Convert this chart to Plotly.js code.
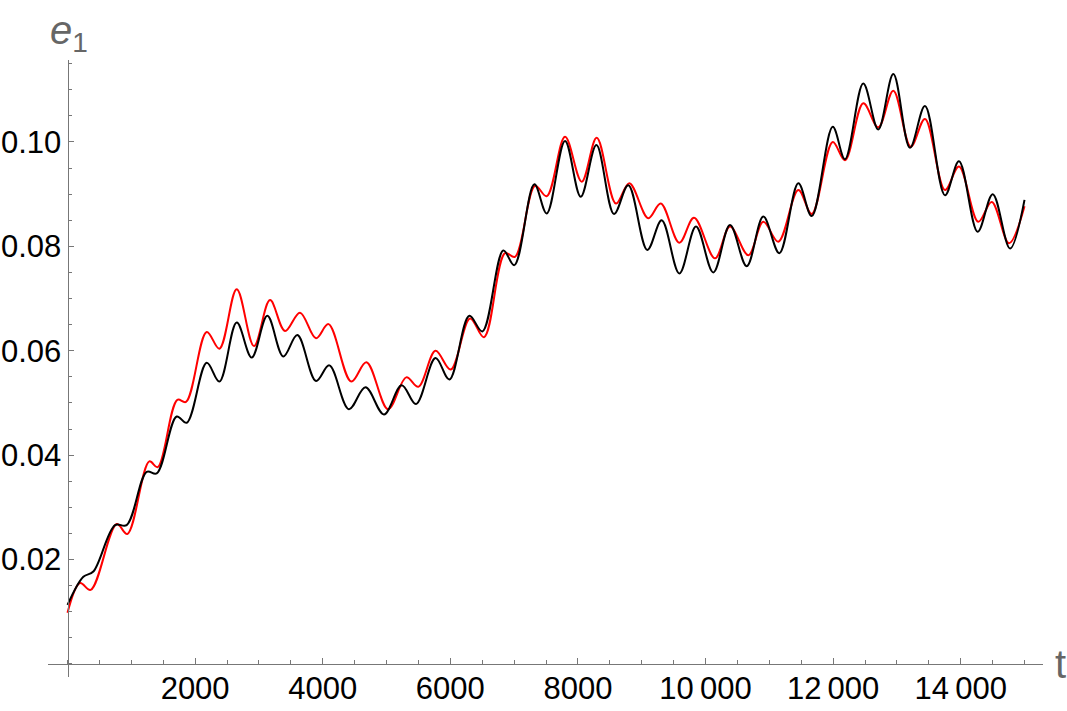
<!DOCTYPE html>
<html>
<head>
<meta charset="utf-8">
<script src="https://cdn.plot.ly/plotly-3.0.1.min.js"></script>
<style>
  html, body { margin: 0; padding: 0; background: #fff; }
  #plot { width: 1067px; height: 711px; }
</style>
</head>
<body>
<div id="plot"></div>
<script>
// e1(t) — two solutions at their turning points
const tBlack = [0, 248, 405, 745, 927, 1241, 1398, 1711, 1868, 2182, 2380, 2652, 2887, 3132, 3383, 3602, 3895, 4103,
  4410, 4670, 4960, 5238, 5462, 5768, 5985, 6298, 6502, 6831, 7003, 7317, 7511, 7798, 8044, 8290, 8566, 8790, 9088,
  9313, 9590, 9851, 10122, 10384, 10646, 10906, 11157, 11455, 11665, 11994, 12186, 12473, 12708, 12944, 13205, 13440,
  13754, 13973, 14266, 14502, 14773, 15000];
const eBlack = [0.0113, 0.0167, 0.0177, 0.0266, 0.0266, 0.0368, 0.0365, 0.0474, 0.0462, 0.0577, 0.0541, 0.0654, 0.0587,
  0.0667, 0.0589, 0.0630, 0.0542, 0.0572, 0.0488, 0.0530, 0.0478, 0.0534, 0.0498, 0.0586, 0.0545, 0.0667, 0.0637,
  0.0792, 0.0764, 0.0919, 0.0863, 0.1002, 0.0895, 0.0994, 0.0862, 0.0917, 0.0793, 0.0850, 0.0748, 0.0838, 0.0750,
  0.0841, 0.0762, 0.0857, 0.0787, 0.0921, 0.0858, 0.1029, 0.0967, 0.1112, 0.1024, 0.1130, 0.0989, 0.1069, 0.0898,
  0.0963, 0.0828, 0.0900, 0.0796, 0.0889];

const tRed = [0, 196, 363, 771, 937, 1282, 1413, 1721, 1857, 2182, 2380, 2652, 2923, 3174, 3409, 3644, 3895, 4090,
  4447, 4685, 5024, 5310, 5499, 5768, 6006, 6309, 6528, 6857, 7014, 7328, 7511, 7798, 8060, 8295, 8597, 8806, 9103,
  9298, 9590, 9820, 10149, 10384, 10671, 10906, 11141, 11455, 11665, 11994, 12186, 12473, 12708, 12944, 13216, 13440,
  13754, 13973, 14276, 14486, 14757, 15000];
const eRed = [0.0098, 0.0155, 0.0142, 0.0268, 0.0249, 0.0388, 0.0377, 0.0506, 0.0502, 0.0636, 0.0604, 0.0718, 0.0609,
  0.0697, 0.0638, 0.0673, 0.0624, 0.0651, 0.0541, 0.0578, 0.0488, 0.0549, 0.0531, 0.0600, 0.0564, 0.0662, 0.0626,
  0.0787, 0.0780, 0.0916, 0.0896, 0.1010, 0.0924, 0.1008, 0.0882, 0.0921, 0.0854, 0.0882, 0.0807, 0.0855, 0.0777,
  0.0838, 0.0783, 0.0847, 0.0809, 0.0908, 0.0862, 0.1000, 0.0965, 0.1074, 0.1028, 0.1098, 0.0991, 0.1044, 0.0908,
  0.0953, 0.0847, 0.0885, 0.0806, 0.0877];

const xTicks = [2000, 4000, 6000, 8000, 10000, 12000, 14000];
const xTickText = ['2000', '4000', '6000', '8000', '10\u2009000', '12\u2009000', '14\u2009000'];
const yTicks = [0.02, 0.04, 0.06, 0.08, 0.10];
const yTickText = ['0.02', '0.04', '0.06', '0.08', '0.10'];

const AXIS = '#777';
const xRange = [-306, 15290];
const yRange = [-0.0025, 0.1157];
// axes cross at the origin, Mathematica style
const xAxisPos = (0 - yRange[0]) / (yRange[1] - yRange[0]);
const yAxisPos = (0 - xRange[0]) / (xRange[1] - xRange[0]);

const line = (x, y, color) => ({
  x, y, type: 'scatter', mode: 'lines', hoverinfo: 'skip',
  line: { color, width: 2, shape: 'spline', smoothing: 1 },
});

const tickFont = { family: 'Liberation Sans, Arial, sans-serif', size: 31, color: '#000' };

Plotly.newPlot('plot', [
  line(tRed, eRed, '#ff0000'),
  line(tBlack, eBlack, '#000000'),
], {
  width: 1067, height: 711,
  margin: { l: 48, r: 24, t: 60, b: 34 },
  paper_bgcolor: '#fff', plot_bgcolor: '#fff',
  showlegend: false,
  xaxis: {
    range: xRange, anchor: 'free', position: xAxisPos,
    showgrid: false, zeroline: false, showline: true, linecolor: AXIS, linewidth: 1,
    tickvals: xTicks, ticktext: xTickText, ticks: 'inside', ticklen: 6, tickcolor: AXIS, tickfont: tickFont,
    ticklabelstandoff: -3,
    minor: { dtick: 500, tick0: 0, ticks: 'inside', ticklen: 3.5, tickcolor: AXIS, showgrid: false },
  },
  yaxis: {
    range: yRange, anchor: 'free', position: yAxisPos,
    showgrid: false, zeroline: false, showline: true, linecolor: AXIS, linewidth: 1,
    tickvals: yTicks, ticktext: yTickText, ticks: 'inside', ticklen: 5, tickcolor: AXIS, tickfont: tickFont,
    minor: { dtick: 0.005, tick0: 0, ticks: 'inside', ticklen: 3, tickcolor: AXIS, showgrid: false },
  },
  annotations: [
    { text: '<i>e</i><sub>1</sub>', xref: 'paper', yref: 'paper', x: 0, y: 1, xanchor: 'left', yanchor: 'bottom',
      showarrow: false, font: { family: 'Liberation Sans, Arial, sans-serif', size: 40, color: '#666' } },
    { text: 't', xref: 'paper', yref: 'paper', x: 1, y: xAxisPos, xanchor: 'left', yanchor: 'middle', xshift: 10,
      showarrow: false, font: { family: 'Liberation Sans, Arial, sans-serif', size: 40, color: '#666' } },
  ],
}, { displayModeBar: false, staticPlot: true });
</script>
</body>
</html>
